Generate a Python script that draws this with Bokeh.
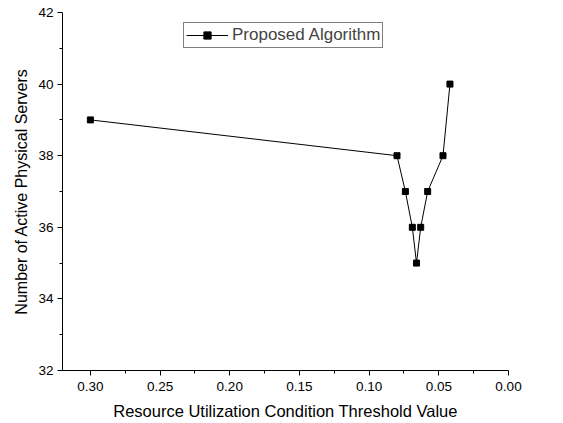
from bokeh.plotting import figure
from bokeh.models import Range1d, FixedTicker, Legend, LegendItem
from bokeh.embed import file_html
from bokeh.resources import INLINE

threshold = [0.30, 0.08, 0.074, 0.069, 0.066, 0.063, 0.058, 0.047, 0.042]
servers = [39, 38, 37, 36, 35, 36, 37, 38, 40]
x_ticks = [0.0, 0.05, 0.10, 0.15, 0.20, 0.25, 0.30]
x_minor = [0.025, 0.075, 0.125, 0.175, 0.225, 0.275]
y_ticks = [32, 34, 36, 38, 40, 42]
y_minor = [33, 35, 37, 39, 41]
series_name = "Proposed Algorithm"

FONT = "Liberation Sans"

p = figure(width=563, height=423, output_backend="svg", toolbar_location=None,
           x_range=Range1d(0.32, 0.0), y_range=Range1d(32, 42),
           min_border_left=62, min_border_right=55, min_border_top=12, min_border_bottom=53)
p.outline_line_color = None
p.xgrid.visible = False
p.ygrid.visible = False

line = p.line(threshold, servers, line_color="black", line_width=1)
pts = p.scatter(threshold, servers, marker="square", size=6, fill_color="black", line_color="black")

p.xaxis.ticker = FixedTicker(ticks=x_ticks, minor_ticks=x_minor)
p.yaxis.ticker = FixedTicker(ticks=y_ticks, minor_ticks=y_minor)
p.xaxis.major_label_overrides = {t: f"{t:.2f}" for t in x_ticks}
p.xaxis.axis_label = "Resource Utilization Condition Threshold Value"
p.yaxis.axis_label = "Number of Active Physical Servers"
for ax in (p.xaxis[0], p.yaxis[0]):
    ax.axis_line_color = "black"
    ax.major_tick_line_color = "black"
    ax.minor_tick_line_color = "black"
    ax.major_tick_out = 5
    ax.major_tick_in = 0
    ax.minor_tick_out = 3
    ax.minor_tick_in = 0
    ax.major_label_text_font = FONT
    ax.major_label_text_font_size = "13.5px"
    ax.major_label_text_color = "black"
    ax.axis_label_text_font = FONT
    ax.axis_label_text_font_style = "normal"
    ax.axis_label_text_color = "black"
p.xaxis.axis_label_text_font_size = "16.5px"
p.yaxis.axis_label_text_font_size = "16px"
p.xaxis.major_label_standoff = 6
p.xaxis.axis_label_standoff = 8
p.yaxis.major_label_standoff = 4
p.yaxis.axis_label_standoff = 5

legend = Legend(items=[LegendItem(label=series_name, renderers=[line, pts])],
                location=(121, 322), border_line_color="black", border_line_width=1,
                padding=2, margin=0, spacing=0, glyph_width=42, glyph_height=18,
                label_text_font=FONT, label_text_font_size="17px", label_standoff=4,
                background_fill_alpha=1)
p.add_layout(legend, "center")

open("out.html", "w").write(file_html(p, INLINE))
